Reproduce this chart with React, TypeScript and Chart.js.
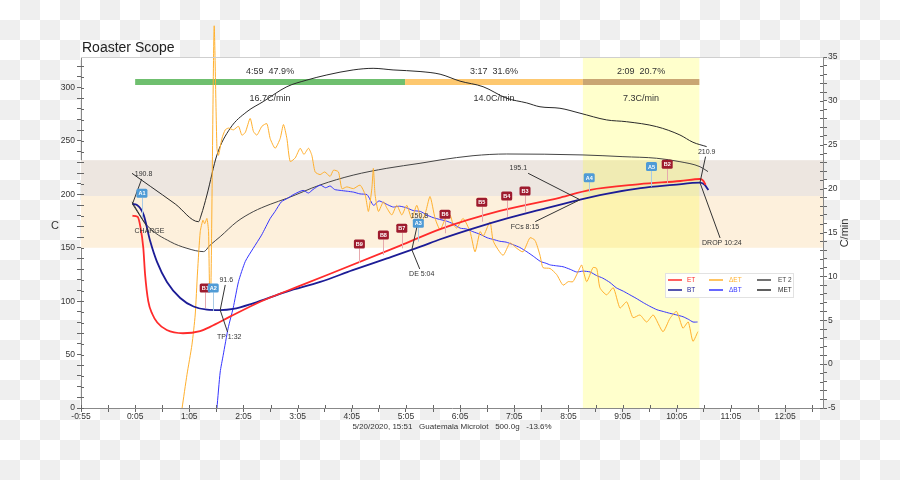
import React, { useEffect, useRef } from "react";
import { Chart, registerables } from "chart.js";
Chart.register(...registerables);

const FONT = "'Liberation Sans', Arial, Helvetica, sans-serif";

// axis ranges (seconds, C, C/min)
const X_MIN = -55;
const X_MAX = 767;
const Y_MIN = 0;
const Y_MAX = 328.6;
const R_MIN = -5;
const R_MAX = 35;

// ET
const ET_T = [2, 7.7, 10.7, 14, 16, 19.5, 24, 29.5, 40, 58, 77, 88, 110, 143.6, 188, 298.6, 343, 409, 476, 508, 564, 609, 631, 634, 637];
const ET_V = [180, 179, 170, 150, 125, 100, 88, 80, 73, 70, 72, 76, 85.5, 99.5, 114.5, 152, 167.5, 184.5, 197, 204, 209.5, 212.5, 214.4, 213, 209];

// BT
const BT_T = [2, 7, 14.3, 21.7, 29.1, 40.2, 54.9, 69.7, 84.5, 99.2, 113.6, 135.7, 173, 210, 246, 284, 321, 343, 379, 417, 453, 490, 527, 565, 601, 631, 636, 640];
const BT_V = [191, 190, 181, 156, 137, 118, 103, 95, 92, 91.6, 92.7, 98, 109, 118, 129, 140, 151, 158, 168, 177.5, 185.5, 193.5, 200.5, 205.8, 208.8, 211, 208.8, 204];

// Delta ET (C/min)
const DET_T = [57, 62.4, 67.9, 71.5, 74.1, 77.1, 80.1, 82, 84.5, 86.3, 87.4, 88.9, 92.5, 95.6, 97.3, 101.1, 104.8, 108.4, 113.9, 119.5, 123.2, 127, 132.4, 136.1, 139.9, 145.4, 150.9, 154.6, 160.1, 165.6, 169.3, 173.1, 176.7, 182.3, 187.8, 192, 197, 200.7, 204.4, 209.9, 215, 221, 224.7, 230.2, 234, 239.5, 246.8, 254.2, 259.8, 263.4, 267.2, 268.9, 270.8, 274.5, 280, 283.8, 289.3, 294.8, 300.4, 305.9, 311.4, 317, 322.5, 327, 331.7, 337.3, 342.8, 347, 350.2, 353.9, 357, 361.3, 368.3, 376, 381.5, 387.1, 390.7, 398.1, 401.8, 412.5, 420.3, 427.7, 434.7, 442.4, 448, 453.5, 456.8, 464.6, 472, 479, 484.8, 490, 497.8, 499.7, 505.2, 512.2, 516.3, 519.9, 527.3, 534.7, 542.1, 549.5, 556.5, 564.2, 571.6, 579, 589.7, 597.4, 604.8, 611.8, 617.7, 622.9, 628.4];
const DET_V = [-5, -1.2, 2.2, 5.6, 10.5, 15.1, 16.4, 16, 16.6, 15.1, 9, 8.6, 38.5, 24.6, 23.8, 25.7, 26.7, 26.9, 26.7, 27.1, 26.1, 26.4, 28, 26.5, 26.1, 27.1, 27.4, 25.7, 24.6, 25.7, 27.3, 25.7, 23.1, 23.5, 24.6, 23.9, 24.6, 23.8, 21.9, 21.6, 21.9, 21.4, 22.1, 21.9, 20, 20.2, 20, 20.4, 19.3, 17.4, 20, 22.3, 19.3, 17.4, 18.5, 17.8, 17, 18.1, 17, 18.1, 16.6, 18.1, 16.2, 17.4, 19.1, 16.6, 15.3, 16.2, 17, 17, 16, 15.5, 16.6, 15.1, 12.8, 15.1, 14.6, 16.2, 14, 12.4, 13.8, 13.2, 12.8, 14.4, 14.1, 12.4, 11, 10.9, 10.2, 9, 9.4, 9.4, 11, 11.3, 9.4, 11, 10.9, 8.7, 7.9, 8.7, 6.4, 7.1, 5.3, 5.6, 4.8, 5.6, 3.7, 5.2, 6, 4.1, 4.8, 2.6, 3.7];

// Delta BT (C/min)
const DBT_T = [95.6, 99.2, 102.5, 108, 113.6, 119.5, 127, 135.8, 145, 154.6, 160, 167, 174, 180, 191, 197, 202, 210, 216, 221, 226, 232, 240, 247, 254, 262, 269, 275, 280, 286, 291, 298, 306, 313, 321, 328, 335, 342, 350, 357, 365, 372, 379, 387, 395, 402, 409, 416, 424, 431, 439, 446, 454, 460, 465, 472, 479, 487, 494, 501, 509, 516, 523, 531, 538, 546, 553, 560, 568, 575, 583, 590, 597, 605, 612, 618, 623, 628];
const DBT_V = [-5, -0.9, 1.0, 4.1, 6.4, 9.4, 11.7, 13.2, 14.7, 16.6, 17.4, 18.5, 18.9, 19.3, 19.8, 19.5, 19.9, 20.4, 20.1, 20.3, 19.9, 19.8, 19.7, 19.6, 19.4, 19.3, 18.1, 18.6, 18.4, 18.1, 17.9, 18.0, 17.8, 17.5, 17.4, 17.0, 16.7, 16.5, 16.3, 16.0, 15.5, 15.4, 15.1, 14.8, 14.4, 14.2, 14.0, 13.9, 13.6, 13.3, 12.8, 12.3, 11.7, 11.5, 11.3, 11.2, 11.1, 10.8, 10.5, 10.6, 10.5, 10.1, 9.8, 9.3, 8.7, 8.3, 7.9, 7.5, 7.0, 6.6, 6.2, 6.0, 5.8, 5.6, 5.4, 5.1, 4.8, 4.8];

// ET 2
const ET2_T = [1.5, 18.1, 43.9, 62.4, 80.7, 88.2, 99.2, 117.7, 135.8, 154.6, 173.1, 209.9, 246.5, 283.8, 320.6, 342.8, 379.3, 416.6, 501.1, 545.4, 582.7, 608.5, 630.7, 639.6];
const ET2_V = [193, 171, 155.7, 149.5, 146.4, 152.6, 160.4, 174.4, 183.8, 190.7, 196.3, 208.8, 218, 224.4, 229.1, 232.2, 236.2, 237.8, 236.9, 235.3, 233.8, 230.6, 225.9, 221.3];

// MET
const MET_T = [1.5, 21.7, 49.4, 75.2, 78.2, 84.5, 95.6, 110.3, 128.8, 146.8, 173.1, 195.2, 217.4, 246.5, 268.6, 290.7, 320.6, 342.8, 364.9, 390.4, 416.6, 438.8, 453.5, 475.6, 497.8, 527.3, 549.5, 582.7, 608.5, 622.9, 638.1];
const MET_V = [219.7, 207.6, 191, 174.4, 180.7, 199.4, 236.9, 261.9, 277.4, 286.8, 300.8, 307, 311.8, 316.5, 318, 316.5, 315, 312.5, 306, 300.8, 290, 285.6, 282, 280.6, 276, 269.7, 268, 263.4, 255.6, 248.8, 244.7];

// phases
const PHASE_T = [5, 304, 501, 630];
const PHASE_TOP = ["4:59  47.9%", "3:17  31.6%", "2:09  20.7%"];
const PHASE_RATE = ["16.7C/min", "14.0C/min", "7.3C/min"];

// background temperature bands (C)
const BAND_LOW = [150, 198.5];
const BAND_HIGH = [198.5, 232];

// event markers
const MARK_LABELS = ["B1", "A1", "A2", "B9", "B8", "B7", "A3", "B6", "B5", "B4", "B3", "A4", "A5", "B2"];
const MARK_T = [82.6, 12.5, 91.5, 253.4, 280, 300.4, 318.7, 348.3, 389, 416.6, 436.9, 508, 577, 594.4];
const MARK_V = [112.4, 201, 112.4, 153.6, 162, 168.3, 173, 181.4, 192.6, 198.5, 203.2, 215.6, 226, 228.2];
const MARK_BASE = [93.6, 178, 90.8, 135.8, 143.3, 149.5, 155.7, 163.6, 174.4, 179, 183.8, 202, 207.2, 210.4];

// roast events (annotated on BT)
const EVENT_NAMES = ["CHARGE", "TP 1:32", "DE 5:04", "FCs 8:15", "DROP 10:24"];
const EVENT_TEMPS = ["190.8", "91.6", "150.8", "195.1", "210.9"];
const EVENT_T = [2, 99.2, 311.5, 497.8, 630.7];
const TEMP_LABEL_T = [14.3, 105.9, 319.9, 429.5, 638.1];
const TEMP_LABEL_V = [219.1, 119.9, 180, 224.4, 240];
const NAME_LABEL_T = [20.9, 109.2, 322.5, 436.9, 655];
const NAME_LABEL_V = [166, 66.5, 125.5, 169.8, 154.5];

const TITLE = "Roaster Scope";
const FOOTER = "5/20/2020, 15:51   Guatemala Microlot   500.0g   -13.6%";

function fmtTime(v: number): string {
  const neg = v < 0;
  const a = Math.abs(v);
  const m = Math.floor(a / 60);
  const s = Math.round(a % 60);
  return (neg ? "-" : "") + m + ":" + (s < 10 ? "0" : "") + s;
}

function pts(t: number[], v: number[]) {
  return t.map((x, i) => ({ x, y: v[i] }));
}

function interp(t: number[], v: number[], x: number): number {
  if (x <= t[0]) return v[0];
  for (let i = 1; i < t.length; i++) {
    if (x <= t[i]) {
      const f = (x - t[i - 1]) / (t[i] - t[i - 1]);
      return v[i - 1] + f * (v[i] - v[i - 1]);
    }
  }
  return v[v.length - 1];
}

const overlayPlugin = {
  id: "roasterOverlay",
  beforeDraw(chart: any) {
    const { ctx, chartArea: ca } = chart;
    ctx.save();
    ctx.fillStyle = "#ffffff";
    ctx.fillRect(ca.left, ca.top, ca.right - ca.left, ca.bottom - ca.top);
    ctx.restore();
  },
  beforeDatasetsDraw(chart: any) {
    const { ctx, chartArea: ca, scales } = chart;
    const x = scales.x, y = scales.y;
    ctx.save();
    // horizontal bands
    const bandColors = ["#fdf0dc", "#ede6e0"];
    [BAND_LOW, BAND_HIGH].forEach((b, i) => {
      const y1 = y.getPixelForValue(b[1]);
      const y0 = y.getPixelForValue(b[0]);
      ctx.fillStyle = bandColors[i];
      ctx.fillRect(ca.left, y1, ca.right - ca.left, y0 - y1);
    });
    // development (yellow) region
    const xs = x.getPixelForValue(PHASE_T[2]);
    const xe = x.getPixelForValue(PHASE_T[3]);
    ctx.fillStyle = "rgba(255,255,0,0.2)";
    ctx.fillRect(xs, ca.top, xe - xs, ca.bottom - ca.top);
    // phase bar
    const barColors = ["#6fbf6f", "#fdc870", "#c9a673"];
    const by = ca.top + 25;
    for (let i = 0; i < 3; i++) {
      const a = x.getPixelForValue(PHASE_T[i]);
      const b = x.getPixelForValue(PHASE_T[i + 1]);
      ctx.fillStyle = barColors[i];
      ctx.fillRect(a, by - 3, b - a, 6);
      ctx.fillStyle = "#333";
      ctx.font = `9px ${FONT}`;
      ctx.textAlign = "center";
      ctx.textBaseline = "middle";
      ctx.fillText(PHASE_TOP[i], (a + b) / 2, ca.top + 15);
      ctx.fillText(PHASE_RATE[i], (a + b) / 2, ca.top + 42);
    }
    ctx.restore();
  },
  afterDatasetsDraw(chart: any) {
    const { ctx, chartArea: ca, scales } = chart;
    const x = scales.x, y = scales.y;
    ctx.save();
    ctx.font = `7px ${FONT}`;
    ctx.textAlign = "center";
    ctx.textBaseline = "middle";
    // event annotations
    const leader = (lx: number, ly: number, w: number, h: number, px: number, py: number) => {
      const dx = px - lx, dy = py - ly;
      const sx = dx !== 0 ? (w / 2 + 1) / Math.abs(dx) : Infinity;
      const sy = dy !== 0 ? (h / 2 + 1) / Math.abs(dy) : Infinity;
      const s = Math.min(sx, sy, 1);
      ctx.beginPath();
      ctx.moveTo(lx + dx * s, ly + dy * s);
      ctx.lineTo(px, py);
      ctx.stroke();
    };
    ctx.strokeStyle = "#333";
    ctx.lineWidth = 1;
    for (let i = 0; i < EVENT_NAMES.length; i++) {
      const px = x.getPixelForValue(EVENT_T[i]);
      const py = y.getPixelForValue(interp(BT_T, BT_V, EVENT_T[i]));
      const tx = x.getPixelForValue(TEMP_LABEL_T[i]);
      const ty = y.getPixelForValue(TEMP_LABEL_V[i]);
      const nx = x.getPixelForValue(NAME_LABEL_T[i]);
      const ny = y.getPixelForValue(NAME_LABEL_V[i]);
      const tw = ctx.measureText(EVENT_TEMPS[i]).width;
      const nw = ctx.measureText(EVENT_NAMES[i]).width;
      leader(tx, ty, tw, 8, px, py);
      leader(nx, ny, nw, 8, px, py);
      ctx.fillStyle = "#333";
      ctx.fillText(EVENT_TEMPS[i], tx, ty);
      ctx.fillText(EVENT_NAMES[i], nx, ny);
    }
    // markers
    const bw = 11, bh = 9;
    for (let i = 0; i < MARK_LABELS.length; i++) {
      const isA = MARK_LABELS[i][0] === "A";
      const mx = x.getPixelForValue(MARK_T[i]);
      const my = y.getPixelForValue(MARK_V[i]);
      const base = y.getPixelForValue(MARK_BASE[i]);
      ctx.strokeStyle = isA ? "#a9cbe6" : "#e6a9ad";
      ctx.lineWidth = 1;
      ctx.beginPath();
      ctx.moveTo(Math.round(mx) + 0.5, my + bh / 2);
      ctx.lineTo(Math.round(mx) + 0.5, base);
      ctx.stroke();
      ctx.fillStyle = isA ? "#4f9bd6" : "#9e1b2e";
      ctx.beginPath();
      (ctx as any).roundRect(mx - bw / 2, my - bh / 2, bw, bh, 1.5);
      ctx.fill();
      ctx.fillStyle = "#ffffff";
      ctx.font = `bold 5.5px ${FONT}`;
      ctx.fillText(MARK_LABELS[i], mx, my + 0.5);
    }
    // legend
    const lx0 = ca.right - 158, ly0 = ca.bottom - 135;
    ctx.fillStyle = "rgba(255,255,255,0.9)";
    ctx.fillRect(lx0, ly0, 128, 24);
    ctx.strokeStyle = "#e2e2e2";
    ctx.lineWidth = 1;
    ctx.strokeRect(lx0 + 0.5, ly0 + 0.5, 128, 24);
    const colLine = [3, 44, 92];
    const colText = [22, 64, 113];
    const rowY = [7, 17];
    ctx.font = `6.5px ${FONT}`;
    ctx.textAlign = "left";
    chart.data.datasets.forEach((ds: any, i: number) => {
      const c = Math.floor(i / 2), r = i % 2;
      const yy = ly0 + rowY[r];
      ctx.strokeStyle = ds.borderColor;
      ctx.lineWidth = 1.5;
      ctx.beginPath();
      ctx.moveTo(lx0 + colLine[c], yy);
      ctx.lineTo(lx0 + colLine[c] + 14, yy);
      ctx.stroke();
      ctx.fillStyle = ds.borderColor;
      ctx.fillText(ds.label, lx0 + colText[c], yy);
    });
    ctx.restore();
  },
  afterDraw(chart: any) {
    const { ctx, chartArea: ca, scales } = chart;
    ctx.save();
    // inner halves of the axis tick marks (ticks cross the axis lines)
    ctx.strokeStyle = "#666";
    ctx.lineWidth = 1;
    ctx.beginPath();
    scales.x.ticks.forEach((t: any) => {
      const px = Math.round(scales.x.getPixelForValue(t.value)) + 0.5;
      ctx.moveTo(px, ca.bottom);
      ctx.lineTo(px, ca.bottom - 3);
    });
    scales.y.ticks.forEach((t: any) => {
      const py = Math.round(scales.y.getPixelForValue(t.value)) + 0.5;
      ctx.moveTo(ca.left, py);
      ctx.lineTo(ca.left + 3, py);
    });
    scales.y1.ticks.forEach((t: any) => {
      const py = Math.round(scales.y1.getPixelForValue(t.value)) + 0.5;
      ctx.moveTo(ca.right, py);
      ctx.lineTo(ca.right - 3, py);
    });
    ctx.stroke();
    // top border of plot
    ctx.strokeStyle = "#cfcfcf";
    ctx.beginPath();
    ctx.moveTo(ca.left, ca.top + 0.5);
    ctx.lineTo(ca.right, ca.top + 0.5);
    ctx.stroke();
    ctx.fillStyle = "#222";
    ctx.font = `14px ${FONT}`;
    ctx.textAlign = "left";
    ctx.textBaseline = "alphabetic";
    ctx.fillText(TITLE, ca.left + 1, 52);
    ctx.font = `11px ${FONT}`;
    ctx.textAlign = "center";
    ctx.textBaseline = "middle";
    ctx.fillStyle = "#333";
    ctx.fillText("C", 55, 226);
    ctx.save();
    ctx.translate(845, 233);
    ctx.rotate(-Math.PI / 2);
    ctx.fillText("C/min", 0, 0);
    ctx.restore();
    ctx.font = `8px ${FONT}`;
    ctx.fillText(FOOTER, (ca.left + ca.right) / 2, 427);
    ctx.restore();
  },
};

export default function App() {
  const ref = useRef<HTMLCanvasElement | null>(null);
  useEffect(() => {
    if (!ref.current) return;
    const tickFont = { family: FONT, size: 8.5 };
    const grid = { drawOnChartArea: false, tickLength: 4, color: "#666", tickColor: "#666" };
    const chart = new Chart(ref.current, {
      type: "line",
      data: {
        datasets: [
          { label: "ET", data: pts(ET_T, ET_V), borderColor: "#ff2b2b", borderWidth: 1.8, yAxisID: "y", cubicInterpolationMode: "monotone" },
          { label: "BT", data: pts(BT_T, BT_V), borderColor: "#1c1c96", borderWidth: 1.8, yAxisID: "y", cubicInterpolationMode: "monotone" },
          { label: "\u0394ET", data: pts(DET_T, DET_V), borderColor: "#ffb02e", borderWidth: 1, yAxisID: "y1", tension: 0.2, clip: false },
          { label: "\u0394BT", data: pts(DBT_T, DBT_V), borderColor: "#3535ff", borderWidth: 1, yAxisID: "y1", tension: 0.2 },
          { label: "ET 2", data: pts(ET2_T, ET2_V), borderColor: "#454545", borderWidth: 1, yAxisID: "y", cubicInterpolationMode: "monotone" },
          { label: "MET", data: pts(MET_T, MET_V), borderColor: "#2a2a2a", borderWidth: 1, yAxisID: "y", cubicInterpolationMode: "monotone" },
        ] as any,
      },
      options: {
        animation: false,
        responsive: false,
        maintainAspectRatio: false,
        layout: { padding: { top: 57, left: 0, right: 0, bottom: 0 } },
        elements: { point: { radius: 0 } },
        plugins: { legend: { display: false }, tooltip: { enabled: false }, title: { display: false } },
        scales: {
          x: {
            type: "linear",
            min: X_MIN,
            max: X_MAX,
            afterBuildTicks: (s: any) => {
              const arr = [];
              for (let v = X_MIN; v <= X_MAX; v += 30) arr.push({ value: v });
              s.ticks = arr;
            },
            afterFit: (s: any) => { s.height = 72; },
            ticks: {
              autoSkip: false,
              maxRotation: 0,
              padding: 0,
              color: "#333",
              font: tickFont,
              callback: (v: any) => ((Number(v) - X_MIN) % 60 === 0 ? fmtTime(Number(v)) : ""),
            },
            grid,
            border: { color: "#888" },
          },
          y: {
            type: "linear",
            position: "left",
            min: Y_MIN,
            max: Y_MAX,
            afterBuildTicks: (s: any) => {
              const arr = [];
              for (let v = 0; v <= 320; v += 10) arr.push({ value: v });
              s.ticks = arr;
            },
            afterFit: (s: any) => { s.width = 81; },
            ticks: {
              autoSkip: false,
              padding: 2,
              color: "#333",
              font: tickFont,
              callback: (v: any) => (Number(v) % 50 === 0 ? String(v) : ""),
            },
            grid,
            border: { color: "#888" },
          },
          y1: {
            type: "linear",
            position: "right",
            min: R_MIN,
            max: R_MAX,
            afterBuildTicks: (s: any) => {
              const arr = [];
              for (let v = R_MIN; v <= R_MAX; v += 1) arr.push({ value: v });
              s.ticks = arr;
            },
            afterFit: (s: any) => { s.width = 77; },
            ticks: {
              autoSkip: false,
              padding: 1,
              color: "#333",
              font: tickFont,
              callback: (v: any) => (Number(v) % 5 === 0 ? String(v) : ""),
            },
            grid,
            border: { color: "#888" },
          },
        },
      } as any,
      plugins: [overlayPlugin],
    });
    return () => chart.destroy();
  }, []);
  return (
    <div
      style={{
        position: "fixed",
        left: 0,
        top: 0,
        width: 900,
        height: 480,
        background: "repeating-conic-gradient(#efefef 0 25%, #ffffff 0 50%) 0 0 / 40px 40px",
      }}
    >
      <canvas ref={ref} width={900} height={480} style={{ width: 900, height: 480, display: "block" }} />
    </div>
  );
}
